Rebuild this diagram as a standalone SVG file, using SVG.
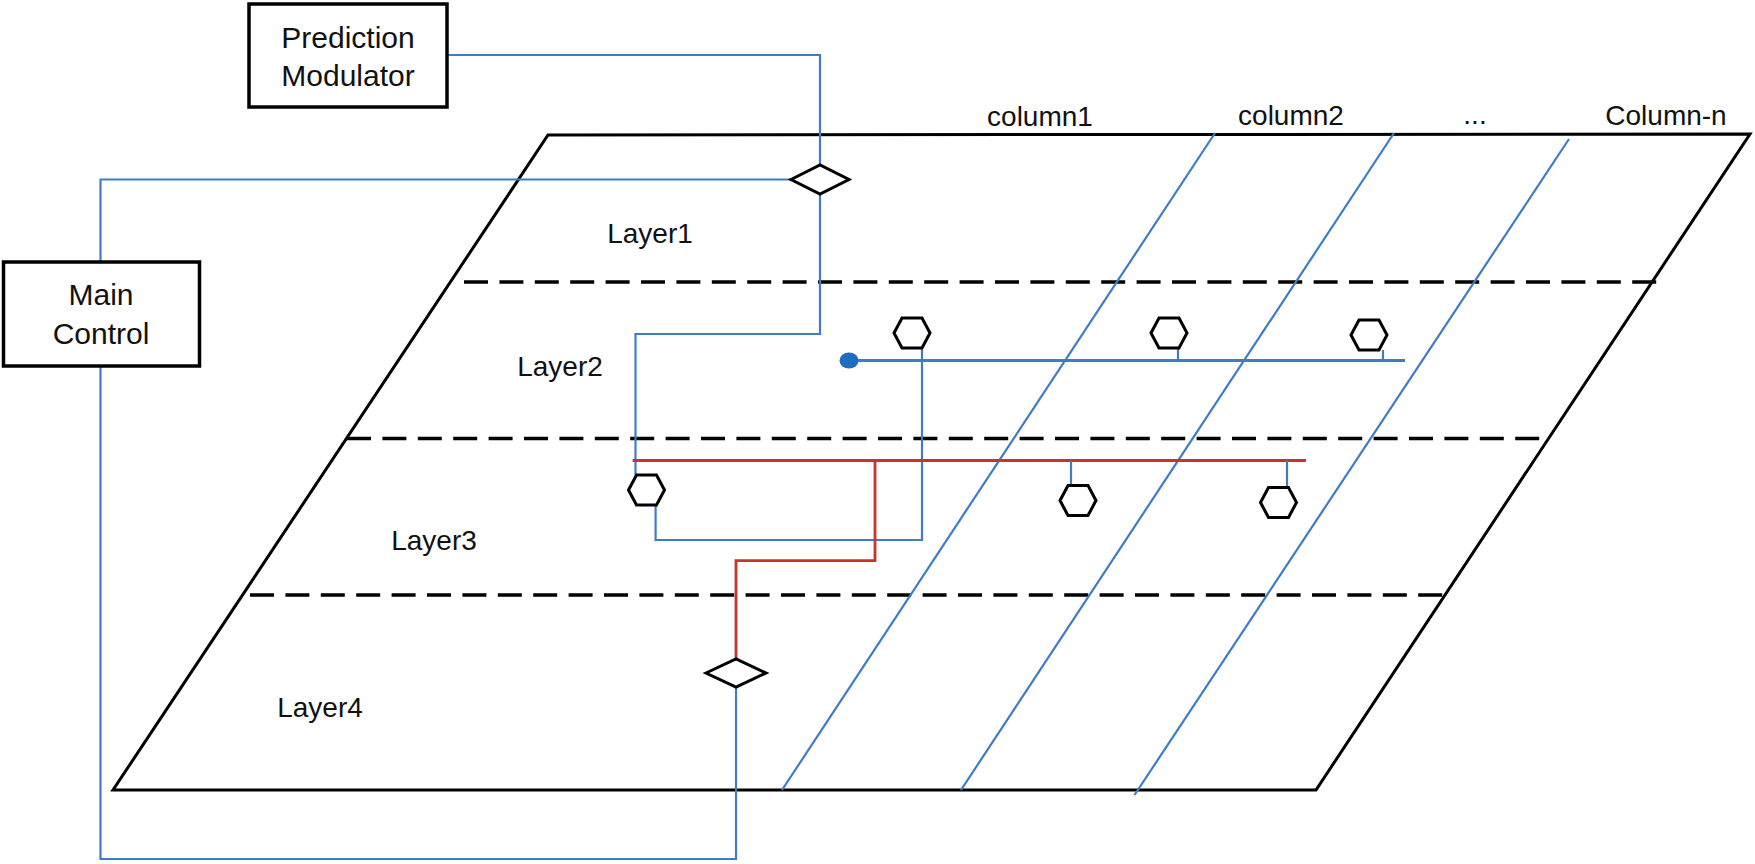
<svg xmlns="http://www.w3.org/2000/svg" width="1755" height="864" viewBox="0 0 1755 864">
<style>
  .txt { font-family: "Liberation Sans", Arial, sans-serif; fill: #111; }
  .box { fill: #fff; stroke: #000; stroke-width: 3.5; }
  .frame { fill: none; stroke: #000; stroke-width: 3; stroke-linejoin: miter; }
  .dash { fill: none; stroke: #000; stroke-width: 3.5; stroke-dasharray: 24 11.4; }
  .blue { fill: none; stroke: #3E7CC4; stroke-width: 2.2; }
  .bus { fill: none; stroke: #3E7CC4; stroke-width: 3; }
  .red { fill: none; stroke: #C4352A; stroke-width: 2.8; }
  .shape { fill: #fff; stroke: #000; stroke-width: 3; stroke-linejoin: miter; }
</style>
<defs>
  <polygon id="hex" points="-18,0 -10,-15 10,-15 18,0 10,15 -10,15"/>
</defs>
<rect width="1755" height="864" fill="#fff"/>

<g id="plane">
  <polygon class="frame" points="548,135 1750,134 1316,790 113,790"/>
  <line class="dash" x1="464" y1="282" x2="1657" y2="282"/>
  <line class="dash" x1="347" y1="438.5" x2="1540" y2="438.5"/>
  <line class="dash" x1="250" y1="595" x2="1443" y2="595"/>
  <text class="txt" x="650" y="243" font-size="28" text-anchor="middle">Layer1</text>
  <text class="txt" x="560" y="376" font-size="28" text-anchor="middle">Layer2</text>
  <text class="txt" x="434" y="550" font-size="28" text-anchor="middle">Layer3</text>
  <text class="txt" x="320" y="717" font-size="28" text-anchor="middle">Layer4</text>
</g>

<g id="columns">
  <line class="blue" x1="1215" y1="133" x2="782" y2="790"/>
  <line class="blue" x1="1394" y1="133" x2="961" y2="790"/>
  <line class="blue" x1="1569" y1="139" x2="1134.5" y2="795"/>
  <text class="txt" x="1040" y="126" font-size="28" text-anchor="middle">column1</text>
  <text class="txt" x="1291" y="125" font-size="28" text-anchor="middle">column2</text>
  <text class="txt" x="1475" y="124" font-size="28" text-anchor="middle">...</text>
  <text class="txt" x="1666" y="125" font-size="28" text-anchor="middle">Column-n</text>
</g>

<g id="connectors">
  <polyline class="blue" points="447,55 820,55 820,165"/>
  <polyline class="blue" points="820,194 820,334 635.5,334 635.5,475"/>
  <polyline class="blue" points="791,179.5 100.5,179.5 100.5,262"/>
  <polyline class="blue" points="100.5,366 100.5,859 736,859 736,687"/>
  <line class="bus" x1="849" y1="360.5" x2="1405" y2="360.5"/>
  <ellipse cx="849" cy="360.5" rx="9.5" ry="8" fill="#1F6DC0"/>
  <polyline class="blue" points="922,348 922,540 655.6,540 655.6,505"/>
  <line class="blue" x1="1178" y1="348" x2="1178" y2="360.5"/>
  <line class="blue" x1="1383" y1="350" x2="1383" y2="360.5"/>
  <line class="red" x1="632.6" y1="460.5" x2="1306" y2="460.5"/>
  <polyline class="red" points="875,460.5 875,560.7 736,560.7 736,659"/>
  <line class="blue" x1="1071" y1="460.5" x2="1071" y2="485"/>
  <line class="blue" x1="1287" y1="460.5" x2="1287" y2="487"/>
</g>

<g id="prediction-modulator">
  <rect class="box" x="249" y="4" width="198" height="103"/>
  <text class="txt" x="348" y="48" font-size="30" text-anchor="middle">Prediction</text>
  <text class="txt" x="348" y="86" font-size="30" text-anchor="middle">Modulator</text>
</g>

<g id="main-control">
  <rect class="box" x="3.5" y="262" width="196" height="104"/>
  <text class="txt" x="101" y="305" font-size="30" text-anchor="middle">Main</text>
  <text class="txt" x="101" y="344" font-size="30" text-anchor="middle">Control</text>
</g>

<g id="diamond-top">
  <polygon class="shape" points="791,179.5 820,165 849,179.5 820,194"/>
</g>
<g id="diamond-bottom">
  <polygon class="shape" points="706,673 736,659 766,673 736,687"/>
</g>

<g id="hex-l2-1"><use href="#hex" x="912" y="333" class="shape"/></g>
<g id="hex-l2-2"><use href="#hex" x="1169" y="333" class="shape"/></g>
<g id="hex-l2-3"><use href="#hex" x="1369" y="335" class="shape"/></g>
<g id="hex-l3-1"><use href="#hex" x="646.5" y="490" class="shape"/></g>
<g id="hex-l3-2"><use href="#hex" x="1078" y="500.5" class="shape"/></g>
<g id="hex-l3-3"><use href="#hex" x="1278.5" y="502.5" class="shape"/></g>
</svg>
